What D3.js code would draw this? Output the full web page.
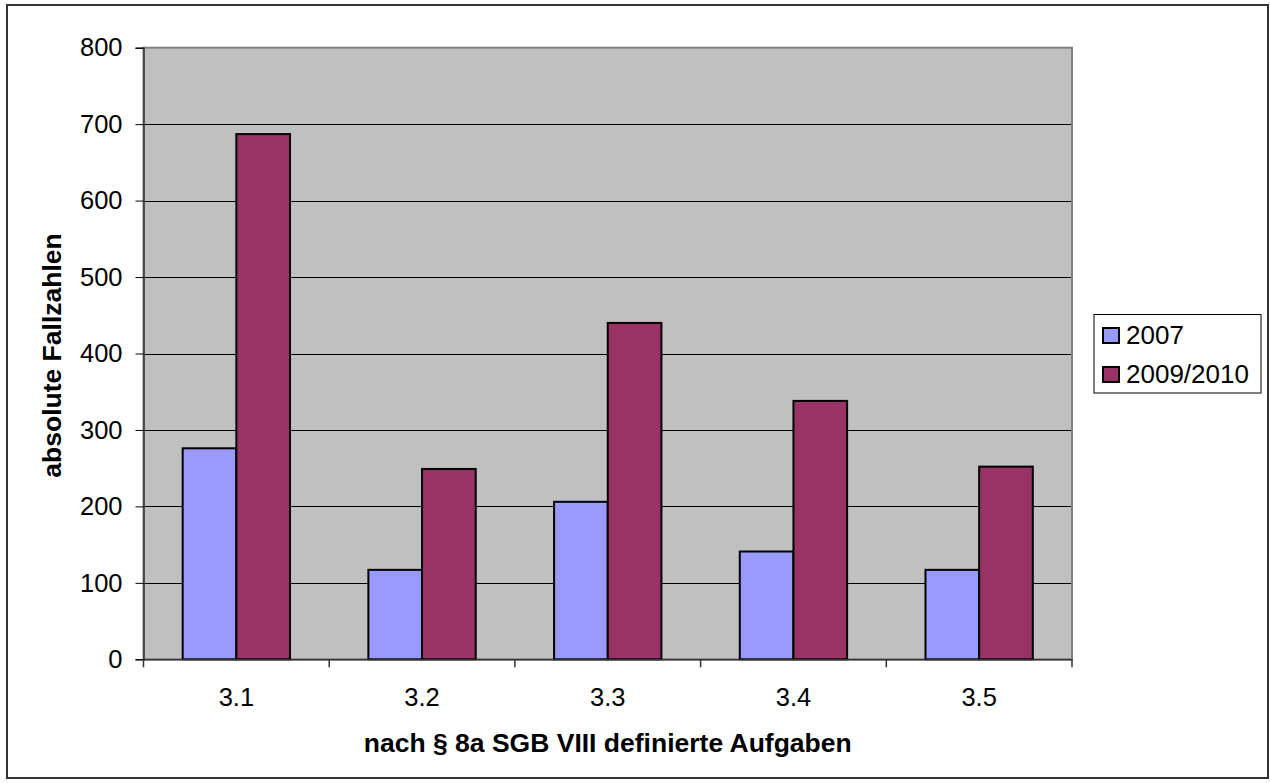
<!DOCTYPE html>
<html>
<head>
<meta charset="utf-8">
<script src="https://cdn.jsdelivr.net/npm/d3@7"></script>
<style>
  html, body { margin: 0; padding: 0; background: #fff; }
  svg { display: block; font-family: "Liberation Sans", Arial, sans-serif; }
</style>
</head>
<body>
<svg id="chart" width="1270" height="783"></svg>
<script>
const categories = ["3.1", "3.2", "3.3", "3.4", "3.5"];
const seriesNames = ["2007", "2009/2010"];
const values2007 = [276, 117, 206, 141, 117];
const values2009 = [687, 249, 440, 338, 252];
const yTicks = [0, 100, 200, 300, 400, 500, 600, 700, 800];
const yTitle = "absolute Fallzahlen";
const xTitle = "nach § 8a SGB VIII definierte Aufgaben";
const colors = ["#9999FF", "#993366"];

const seriesValues = [values2007, values2009];
const data = categories.map((c, i) => ({
  cat: c,
  vals: seriesNames.map((s, j) => ({ series: s, idx: j, value: seriesValues[j][i] }))
}));

const svg = d3.select("#chart");
const plot = { left: 143.5, right: 1072, top: 47.7, bottom: 659.3 };

// outer border
svg.append("rect")
  .attr("x", 7).attr("y", 5).attr("width", 1261).attr("height", 773)
  .attr("fill", "#fff").attr("stroke", "#333").attr("stroke-width", 2);

const x0 = d3.scaleBand().domain(categories).range([plot.left, plot.right]).paddingInner(0).paddingOuter(0);
const bw = x0.bandwidth();
const x1 = d3.scaleBand().domain(seriesNames).range([bw * 0.211, bw * 0.789]);
const y = d3.scaleLinear().domain([0, 800]).range([plot.bottom, plot.top]);

// plot background
svg.append("rect")
  .attr("x", plot.left).attr("y", plot.top)
  .attr("width", plot.right - plot.left).attr("height", plot.bottom - plot.top)
  .attr("fill", "#C0C0C0");

// gridlines
svg.append("g").selectAll("line").data(yTicks.filter(t => t > 0 && t < 800)).join("line")
  .attr("x1", plot.left).attr("x2", plot.right)
  .attr("y1", d => Math.round(y(d)) + 0.5).attr("y2", d => Math.round(y(d)) + 0.5)
  .attr("stroke", "#000").attr("stroke-width", 1);

// plot border
svg.append("rect")
  .attr("x", plot.left).attr("y", plot.top)
  .attr("width", plot.right - plot.left).attr("height", plot.bottom - plot.top)
  .attr("fill", "none").attr("stroke", "#808080").attr("stroke-width", 2);

// bars
const groups = svg.append("g").selectAll("g").data(data).join("g")
  .attr("transform", d => `translate(${x0(d.cat)},0)`);
groups.selectAll("rect").data(d => d.vals).join("rect")
  .attr("x", d => x1(d.series))
  .attr("y", d => y(d.value))
  .attr("width", x1.bandwidth())
  .attr("height", d => y(0) - y(d.value))
  .attr("fill", d => colors[d.idx])
  .attr("stroke", "#000").attr("stroke-width", 2);

// y axis
const yAxis = d3.axisLeft(y).tickValues(yTicks).tickSize(8).tickPadding(13);
const yg = svg.append("g").attr("transform", `translate(${plot.left},0)`).call(yAxis);
yg.select(".domain").attr("stroke", "#333").attr("stroke-width", 1.5);
yg.selectAll(".tick line").attr("stroke", "#000");
yg.selectAll(".tick text").attr("font-size", 25.5).attr("fill", "#000")
  .attr("font-family", "'Liberation Sans', Arial, sans-serif");

// x axis
const xAxis = d3.axisBottom(x0).tickSize(0).tickPadding(0);
const xg = svg.append("g").attr("transform", `translate(0,${plot.bottom})`).call(xAxis);
xg.select(".domain").attr("stroke", "#333").attr("stroke-width", 1.5);
xg.selectAll(".tick text").attr("font-size", 25.5).attr("fill", "#000")
  .attr("font-family", "'Liberation Sans', Arial, sans-serif")
  .attr("dy", null).attr("y", 706 - plot.bottom);
// category separator ticks
const boundaries = categories.map(c => x0(c)).concat([plot.right]);
xg.selectAll("line.sep").data(boundaries).join("line")
  .attr("class", "sep")
  .attr("x1", d => d).attr("x2", d => d)
  .attr("y1", 0).attr("y2", 8)
  .attr("stroke", "#333").attr("stroke-width", 1.5);

// axis titles
svg.append("text")
  .attr("transform", `translate(60.5,${(plot.top + plot.bottom) / 2 + 2}) rotate(-90)`)
  .attr("text-anchor", "middle")
  .attr("font-size", 26.5).attr("font-weight", "bold")
  .text(yTitle);
svg.append("text")
  .attr("x", (plot.left + plot.right) / 2).attr("y", 752)
  .attr("text-anchor", "middle")
  .attr("font-size", 26.5).attr("font-weight", "bold")
  .text(xTitle);

// legend
const legend = svg.append("g");
legend.append("rect")
  .attr("x", 1094).attr("y", 314.5).attr("width", 167).attr("height", 78.5)
  .attr("fill", "#fff").attr("stroke", "#000").attr("stroke-width", 1);
const li = legend.selectAll("g.item").data(seriesNames).join("g")
  .attr("class", "item")
  .attr("transform", (d, i) => `translate(0,${i * 39})`);
li.append("rect")
  .attr("x", 1103).attr("y", 328).attr("width", 16).attr("height", 15)
  .attr("fill", (d, i) => colors[i]).attr("stroke", "#000").attr("stroke-width", 2);
li.append("text")
  .attr("x", 1126).attr("y", 344)
  .attr("font-size", 26).attr("fill", "#000")
  .text(d => d);
</script>
</body>
</html>
